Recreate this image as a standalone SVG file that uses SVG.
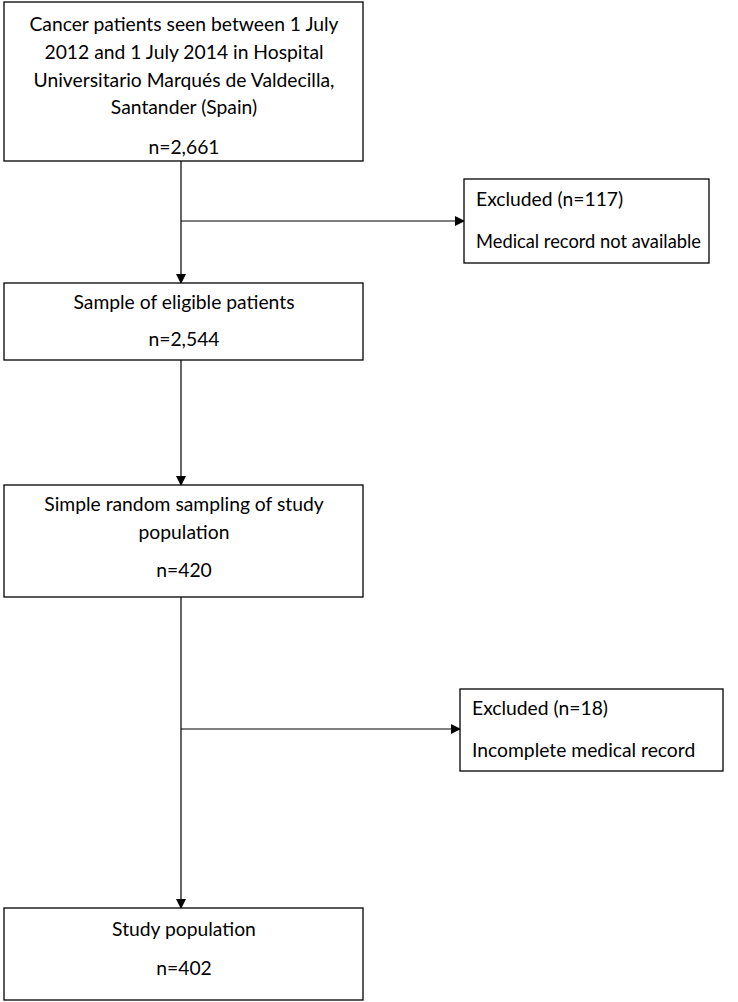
<svg xmlns="http://www.w3.org/2000/svg" width="738" height="1002" viewBox="0 0 738 1002">
<defs>
<style>
.box{fill:#fff;stroke:#000;stroke-width:1.3}
.t{font-family:Lato,"Open Sans","Liberation Sans",sans-serif;font-size:19.3px;fill:#000}
.c{text-anchor:middle}
.ln{stroke:#000;stroke-width:1.2;fill:none}
</style>
<marker id="ah" markerWidth="10" markerHeight="10" refX="9" refY="5" orient="auto" markerUnits="userSpaceOnUse">
<path d="M0,0 L10,5 L0,10 Z" fill="#000"/>
</marker>
</defs>
<rect width="738" height="1002" fill="#fff"/>
<g id="connectors">
<line class="ln" x1="181" y1="161" x2="181" y2="283" marker-end="url(#ah)"/>
<line class="ln" x1="181" y1="221" x2="464" y2="221" marker-end="url(#ah)"/>
<line class="ln" x1="181" y1="360" x2="181" y2="485" marker-end="url(#ah)"/>
<line class="ln" x1="181" y1="597" x2="181" y2="908" marker-end="url(#ah)"/>
<line class="ln" x1="181" y1="729" x2="460" y2="729" marker-end="url(#ah)"/>
</g>
<g id="n1">
<rect class="box" x="4" y="2" width="359" height="159"/>
<text class="t c" x="184" y="31">Cancer patients seen between 1 July</text>
<text class="t c" x="184" y="59">2012 and 1 July 2014 in Hospital</text>
<text class="t c" x="184" y="87">Universitario Marqués de Valdecilla,</text>
<text class="t c" x="184" y="114">Santander (Spain)</text>
<text class="t c" x="184" y="154">n=2,661</text>
</g>
<g id="e1">
<rect class="box" x="464" y="179" width="245" height="84"/>
<text class="t" x="476" y="206">Excluded (n=117)</text>
<text class="t" x="476" y="248" textLength="225" lengthAdjust="spacingAndGlyphs">Medical record not available</text>
</g>
<g id="n2">
<rect class="box" x="4" y="283" width="359" height="77"/>
<text class="t c" x="184" y="309">Sample of eligible patients</text>
<text class="t c" x="184" y="346">n=2,544</text>
</g>
<g id="n3">
<rect class="box" x="4" y="485" width="359" height="112"/>
<text class="t c" x="184" y="511">Simple random sampling of study</text>
<text class="t c" x="184" y="539">population</text>
<text class="t c" x="184" y="577">n=420</text>
</g>
<g id="e2">
<rect class="box" x="460" y="689" width="263" height="82"/>
<text class="t" x="472" y="715">Excluded (n=18)</text>
<text class="t" x="472" y="757">Incomplete medical record</text>
</g>
<g id="n4">
<rect class="box" x="4" y="908" width="359" height="92"/>
<text class="t c" x="184" y="936">Study population</text>
<text class="t c" x="184" y="975">n=402</text>
</g>
</svg>
